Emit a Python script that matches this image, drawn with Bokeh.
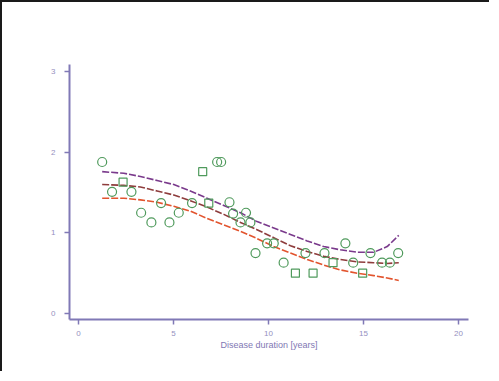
from bokeh.plotting import figure
from bokeh.models import Range1d, FixedTicker
from bokeh.embed import file_html
from bokeh.resources import INLINE

# observed data (disease duration in years, value)
circ_x = [1.25, 1.77, 2.79, 3.30, 3.84, 4.35, 4.79, 5.28, 5.98, 7.30, 7.51, 7.95, 8.14,
          8.53, 8.82, 9.05, 9.32, 9.93, 10.28, 10.80, 11.95, 12.95, 14.05, 14.46, 15.37,
          15.98, 16.39, 16.83]
circ_y = [1.88, 1.51, 1.51, 1.25, 1.13, 1.37, 1.13, 1.25, 1.37, 1.88, 1.88, 1.38, 1.24,
          1.13, 1.25, 1.13, 0.75, 0.87, 0.87, 0.63, 0.75, 0.75, 0.87, 0.63, 0.75,
          0.63, 0.63, 0.75]
sq_x = [2.35, 6.54, 6.86, 11.42, 12.35, 13.40, 14.96]
sq_y = [1.63, 1.76, 1.37, 0.50, 0.50, 0.63, 0.50]

# fitted curve and confidence limits
curve_x = [1.25, 2.39, 3.26, 4.14, 5.02, 5.89, 6.77, 7.65, 8.53, 9.40, 10.28, 11.16,
           12.04, 12.91, 13.79, 14.67, 15.54, 16.25, 16.86]
upper_y = [1.76, 1.74, 1.70, 1.65, 1.60, 1.52, 1.43, 1.34, 1.25, 1.14, 1.06, 0.98,
           0.90, 0.83, 0.79, 0.76, 0.76, 0.83, 0.97]
fit_y = [1.60, 1.59, 1.57, 1.52, 1.47, 1.40, 1.32, 1.23, 1.13, 1.04, 0.94, 0.84,
         0.77, 0.71, 0.67, 0.64, 0.63, 0.62, 0.63]
lower_y = [1.43, 1.43, 1.41, 1.38, 1.33, 1.27, 1.18, 1.10, 1.02, 0.93, 0.83, 0.75,
           0.67, 0.60, 0.54, 0.50, 0.47, 0.44, 0.41]

x_ticks = [0, 5, 10, 15, 20]
y_ticks = [0, 1, 2, 3]
x_label = "Disease duration [years]"

axis_col = "#8079b6"
green = "#4f9a5c"

p = figure(width=489, height=371, output_backend="svg", toolbar_location=None,
           x_range=Range1d(-0.47, 20.53), y_range=Range1d(-0.075, 3.09),
           min_border_left=67, min_border_right=23, min_border_top=62, min_border_bottom=54)
p.styles = {"border-top": "2px solid #1a1a1a", "border-left": "2px solid #1a1a1a"}
p.outline_line_color = None
p.grid.grid_line_color = None
p.background_fill_color = "white"

for ax in (p.xaxis[0], p.yaxis[0]):
    ax.axis_line_color = axis_col
    ax.axis_line_width = 2
    ax.major_tick_line_color = axis_col
    ax.major_tick_line_width = 1.5
    ax.major_tick_out = 5
    ax.major_tick_in = 0
    ax.minor_tick_line_color = None
    ax.major_label_text_color = "#9590c0"
    ax.major_label_text_font = "Liberation Sans"
    ax.major_label_text_font_size = "8px"

p.xaxis.ticker = FixedTicker(ticks=x_ticks)
p.yaxis.ticker = FixedTicker(ticks=y_ticks)
p.xaxis.axis_label = x_label
p.xaxis.axis_label_text_font = "Liberation Sans"
p.xaxis.axis_label_text_font_style = "normal"
p.xaxis.axis_label_text_font_size = "9px"
p.xaxis.axis_label_text_color = "#7f78b4"
p.xaxis.axis_label_standoff = 1
p.xaxis.major_label_standoff = 6
p.yaxis.major_label_standoff = 9

p.line(curve_x, upper_y, line_color="#7a3a8c", line_width=1.6, line_dash="7 2")
p.line(curve_x, fit_y, line_color="#8e3c3c", line_width=1.6, line_dash="7 2")
p.line(curve_x, lower_y, line_color="#e2542e", line_width=1.6, line_dash="7 2")

p.scatter(circ_x, circ_y, marker="circle", size=9, fill_color=None,
          line_color=green, line_width=1.2)
p.scatter(sq_x, sq_y, marker="square", size=8, fill_color=None,
          line_color=green, line_width=1.2)

open("out.html", "w").write(file_html(p, INLINE))
